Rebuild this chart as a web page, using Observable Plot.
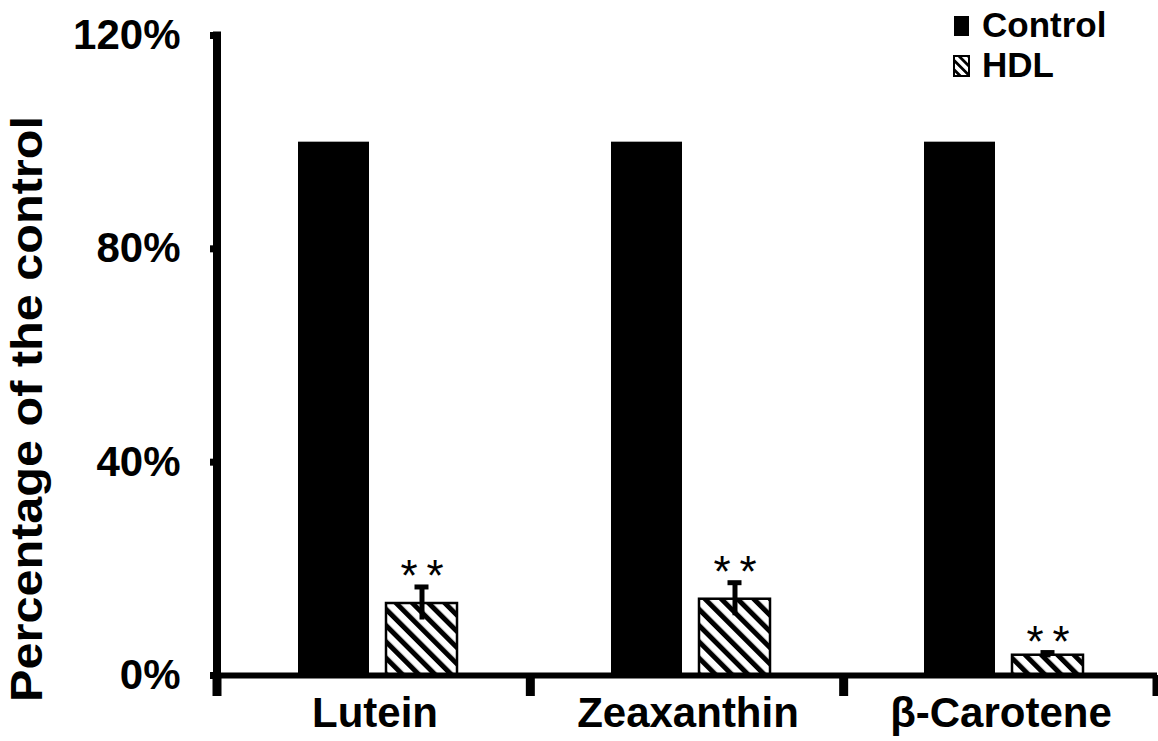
<!DOCTYPE html>
<html><head><meta charset="utf-8">
<script src="https://cdn.jsdelivr.net/npm/d3@7"></script>
<script src="https://cdn.jsdelivr.net/npm/@observablehq/plot@0.6"></script>
<style>
html,body{margin:0;padding:0;background:#fff;}
#wrap{position:relative;width:1158px;height:741px;overflow:hidden;}
#wrap svg{display:block;}
#overlay{position:absolute;left:0;top:0;pointer-events:none;}
</style></head><body><div id="wrap"></div>
<script>
const categories = ["Lutein", "Zeaxanthin", "β-Carotene"];
const groups = ["Control", "HDL"];
const controlValues = [100, 100, 100];
const hdlValues = [13.5, 14.3, 3.8];
const hdlErrors = [3.1, 3.1, 0.5];
const significance = ["**", "**", "**"];
const yTicks = [0, 40, 80, 120];
const yLabel = "Percentage of the control";

const data = [];
categories.forEach((c, i) => {
  data.push({category: c, group: "Control", value: controlValues[i], err: 0, sig: ""});
  data.push({category: c, group: "HDL", value: hdlValues[i], err: hdlErrors[i], sig: significance[i]});
});
const control = data.filter(d => d.group === "Control");
const hdl = data.filter(d => d.group === "HDL");
const font = "'Liberation Sans', Arial, sans-serif";

const chart = Plot.plot({
  width: 1158, height: 741,
  marginLeft: 217, marginRight: 1, marginTop: 35, marginBottom: 66,
  style: {fontFamily: font, background: "#fff", color: "#000", overflow: "visible"},
  fx: {domain: categories, padding: 0, label: null},
  x: {domain: groups, paddingInner: 0.19, paddingOuter: 0.86, align: 0.52, axis: null},
  y: {domain: [0, 120]},
  marks: [
    Plot.barY(control, {fx: "category", x: "group", y: "value", fill: "#000"}),
    Plot.barY(hdl, {fx: "category", x: "group", y: "value", fill: "url(#hatch)", stroke: "#000", strokeWidth: 2.5}),
    Plot.ruleX(hdl, {fx: "category", x: "group", y1: d => d.value - d.err, y2: d => d.value + d.err, stroke: "#000", strokeWidth: 5}),
    Plot.tickY(hdl, {fx: "category", x: "group", y: d => d.value + d.err, stroke: "#000", strokeWidth: 5, insetLeft: 28.5, insetRight: 28.5}),
    Plot.text(hdl, {fx: "category", x: "group", y: d => d.value + d.err, text: d => d.sig.split("").join("\u2009"), dy: -10, fontSize: 44, fill: "#000"}),
    Plot.ruleY([0], {stroke: "#000", strokeWidth: 6}),
    Plot.axisY({ticks: yTicks, tickFormat: d => d + "%", tickSize: 8, tickPadding: 30, strokeWidth: 7, fontSize: 42, fontWeight: "bold", label: null}),
    Plot.axisFx({anchor: "bottom", tickSize: 0, tickPadding: 22, fontSize: 42, fontWeight: "bold", label: null})
  ]
});

document.getElementById("wrap").appendChild(chart);

// patterns + axis lines derived from the plot's scales
const svg = d3.select(chart);
const defs = svg.insert("defs", ":first-child");
function hatch(id, size, w) {
  const p = defs.append("pattern").attr("id", id).attr("patternUnits", "userSpaceOnUse")
    .attr("width", size).attr("height", size).attr("patternTransform", "rotate(-45)");
  p.append("rect").attr("width", size).attr("height", size).attr("fill", "#fff");
  p.append("rect").attr("width", w).attr("height", size).attr("fill", "#000");
}
hatch("hatch", 11.5, 5);
hatch("hatchSmall", 6.5, 2.8);

const fxs = chart.scale("fx");
const ys = chart.scale("y");
const band = d3.scaleBand().domain(fxs.domain).range(fxs.range).paddingInner(0).paddingOuter(0);
const yy = d3.scaleLinear().domain(ys.domain).range(ys.range);
const bounds = fxs.domain.map(c => band(c)).concat([band(fxs.domain[fxs.domain.length - 1]) + band.bandwidth()]);
const axisG = svg.append("g");
axisG.selectAll("line.tk").data(bounds).join("line")
  .attr("x1", d => d).attr("x2", d => d)
  .attr("y1", yy(0)).attr("y2", yy(0) + 21)
  .attr("stroke", "#000").attr("stroke-width", 9);
axisG.append("line")
  .attr("x1", fxs.range[0]).attr("x2", fxs.range[0])
  .attr("y1", yy(120) - 3.5).attr("y2", yy(0) + 3)
  .attr("stroke", "#000").attr("stroke-width", 8);

// legend + y title overlay
const ov = d3.select("#wrap").append("svg").attr("id", "overlay").attr("width", 1158).attr("height", 741)
  .style("font-family", font);
ov.append("text").attr("transform", "translate(42,409) rotate(-90) scale(1.08,1)").attr("text-anchor", "middle")
  .attr("font-size", 45).attr("font-weight", "bold").text(yLabel);
const legendItems = [
  {label: groups[0], fill: "#000", stroke: "none"},
  {label: groups[1], fill: "url(#hatchSmall)", stroke: "#000"}
];
legendItems.forEach((it, i) => {
  const base = 37 + i * 40;
  ov.append("rect").attr("x", 954).attr("y", base - 21).attr("width", 15).attr("height", 20)
    .attr("fill", it.fill).attr("stroke", it.stroke).attr("stroke-width", 2);
  ov.append("text").attr("x", 982).attr("y", base).attr("font-size", 35).attr("font-weight", "bold").text(it.label);
});
</script></body></html>
